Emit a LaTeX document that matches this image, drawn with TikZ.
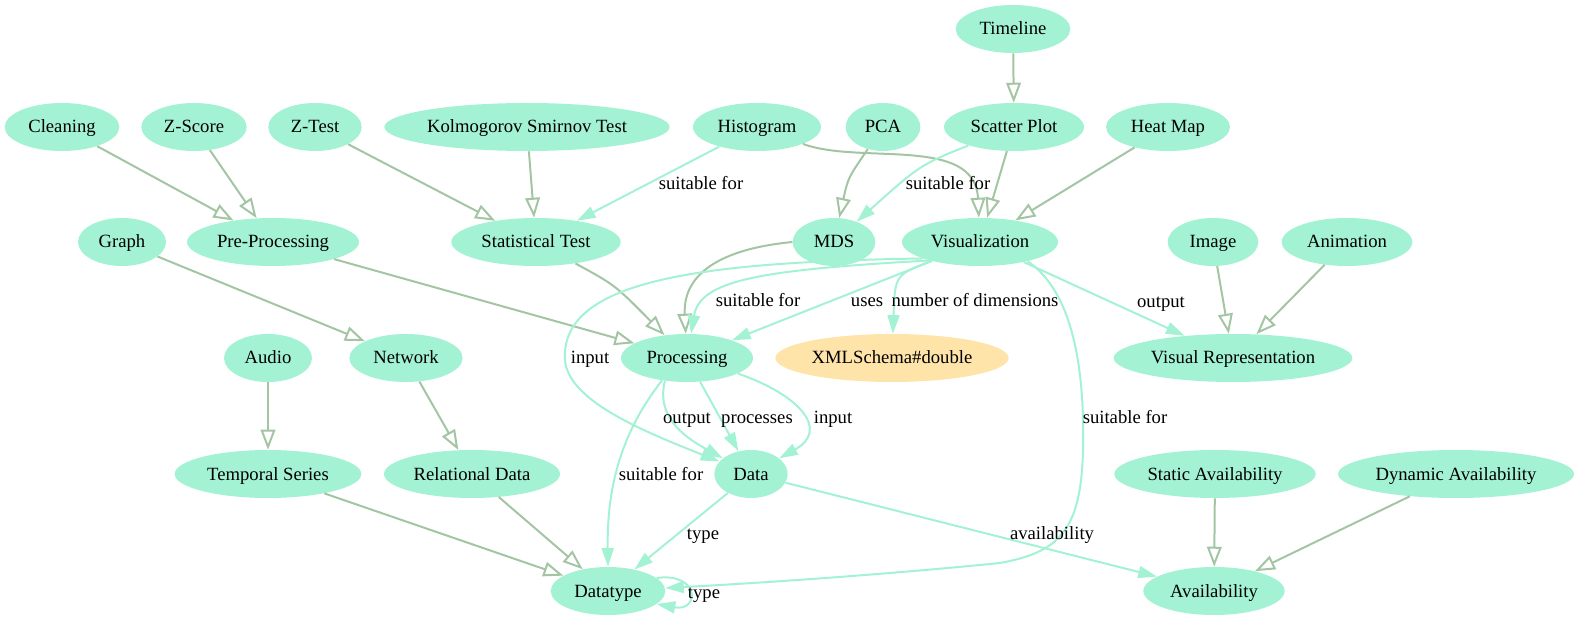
\documentclass[tikz,border=0pt]{standalone}
\usepackage{xcolor}
\usepackage{fontspec}
\setmainfont{Liberation Serif}
\usepackage{tikz}
\usetikzlibrary{shapes.geometric, arrows.meta}
\definecolor{nodeaqua}{HTML}{A3F2D4}
\definecolor{xsdorange}{HTML}{FFE4AA}
\definecolor{subgreen}{HTML}{A3C5A3}

\begin{document}
\begin{tikzpicture}[x=0.75pt, y=-0.75pt,
            classe/.style={ellipse, fill=nodeaqua, minimum height=36pt, inner xsep=0pt, inner ysep=1pt, text height=12pt, text depth=3pt, font=\fontsize{14}{16}\selectfont},
            literal/.style={classe, fill=xsdorange},
            sub/.style={draw=subgreen, line width=1.5pt, -{Triangle[open, length=15pt, width=11pt]}},
            prop/.style={draw=nodeaqua, line width=1.5pt, -{Triangle[length=14pt, width=9pt]}},
            rot/.style={inner sep=0pt, text height=12pt, text depth=3pt, font=\fontsize{14}{16}\selectfont}]
            \useasboundingbox (0,0) rectangle (1579,620);
            \node[classe, minimum width=86pt] (tl) at (1013,29) {Timeline};
            \node[classe, minimum width=86pt] (cl) at (62,127) {Cleaning};
            \node[classe, minimum width=79pt] (zs) at (194,127) {Z-Score};
            \node[classe, minimum width=70pt] (zt) at (315,127) {Z-Test};
            \node[classe, minimum width=214pt] (ks) at (527,127) {Kolmogorov Smirnov Test};
            \node[classe, minimum width=96pt] (hi) at (757,127) {Histogram};
            \node[classe, minimum width=56pt] (pca) at (883,127) {PCA};
            \node[classe, minimum width=105pt] (sc) at (1014,127) {Scatter Plot};
            \node[classe, minimum width=93pt] (hm) at (1168,127) {Heat Map};
            \node[classe, minimum width=66pt] (gr) at (122,242) {Graph};
            \node[classe, minimum width=129pt] (pp) at (273,242) {Pre-Processing};
            \node[classe, minimum width=127pt] (st) at (536,242) {Statistical Test};
            \node[classe, minimum width=62pt] (mds) at (834,242) {MDS};
            \node[classe, minimum width=117pt] (vi) at (980,242) {Visualization};
            \node[classe, minimum width=68pt] (im) at (1213,242) {Image};
            \node[classe, minimum width=98pt] (an) at (1347,242) {Animation};
            \node[classe, minimum width=66pt] (au) at (268,358) {Audio};
            \node[classe, minimum width=85pt] (nw) at (406,358) {Network};
            \node[classe, minimum width=99pt] (pr) at (687,358) {Processing};
            \node[literal, minimum width=175pt] (xsd) at (892,358) {XMLSchema\#double};
            \node[classe, minimum width=179pt] (vr) at (1233,358) {Visual Representation};
            \node[classe, minimum width=140pt] (ts) at (268,474) {Temporal Series};
            \node[classe, minimum width=132pt] (rd) at (472,474) {Relational Data};
            \node[classe, minimum width=55pt] (da) at (751,474) {Data};
            \node[classe, minimum width=151pt] (sa) at (1215,474) {Static Availability};
            \node[classe, minimum width=177pt] (dy) at (1456,474) {Dynamic Availability};
            \node[classe, minimum width=86pt] (dt) at (608,591) {Datatype};
            \node[classe, minimum width=106pt] (av) at (1214,591) {Availability};
            \draw[sub] (tl) -- (sc);
            \draw[sub] (cl) -- (pp);
            \draw[sub] (zs) -- (pp);
            \draw[sub] (zt) -- (st);
            \draw[sub] (ks) -- (st);
            \draw[sub] (hi) .. controls (860,165) and (975,135) .. (vi);
            \draw[sub] (pca) .. controls (848,178) .. (mds);
            \draw[sub] (sc) -- (vi);
            \draw[sub] (hm) -- (vi);
            \draw[sub] (gr) -- (nw);
            \draw[sub] (pp) -- (pr);
            \draw[sub] (st) .. controls (615,285) .. (pr);
            \draw[sub] (mds.west) .. controls (710,250) and (683,280) .. (pr);
            \draw[sub] (im) -- (vr);
            \draw[sub] (an) -- (vr);
            \draw[sub] (au) -- (ts);
            \draw[sub] (nw) -- (rd);
            \draw[sub] (ts) -- (dt);
            \draw[sub] (rd) -- (dt);
            \draw[sub] (sa) -- (av);
            \draw[sub] (dy) -- (av);
            \draw[prop] (hi) -- (st);
            \draw[prop] (sc) .. controls (920,165) .. (mds);
            \draw[prop] (vi.200) .. controls (760,270) and (700,280) .. (pr);
            \draw[prop] (vi) -- (pr);
            \draw[prop] (vi) .. controls (895,275) .. (xsd);
            \draw[prop] (vi) -- (vr);
            \draw[prop] (vi.196) .. controls (700,262) and (560,280) .. (565,360) .. controls (568,400) and (640,430) .. (da);
            \draw[prop] (vi.-22) .. controls (1070,290) and (1085,360) .. (1083,450) .. controls (1081,530) and (1060,552) .. (1000,563) .. controls (880,575) and (760,583) .. (dt);
            \draw[prop] (pr.226) .. controls (655,420) and (690,440) .. (da);
            \draw[prop] (pr) -- (da);
            \draw[prop] (pr.-17) .. controls (800,395) and (830,430) .. (da);
            \draw[prop] (pr.222) .. controls (615,440) and (607,500) .. (dt.north);
            \draw[prop] (da) -- (dt);
            \draw[prop] (da) -- (av);
            \draw[prop] (dt.15) .. controls (700,572) and (700,612) .. (dt.-15);
            \node[rot] (l1) at (701,184) {suitable for};
            \node[rot] (l2) at (948,184) {suitable for};
            \node[rot] (l3) at (590,358) {input};
            \node[rot] (l4) at (758,301) {suitable for};
            \node[rot] (l5) at (867,301) {uses};
            \node[rot] (l6) at (975,301) {number of dimensions};
            \node[rot] (l7) at (1161,302) {output};
            \node[rot] (l8) at (687,417) {output};
            \node[rot] (l9) at (757,417) {processes};
            \node[rot] (l10) at (833,417) {input};
            \node[rot] (l11) at (1125,417) {suitable for};
            \node[rot] (l12) at (661,474) {suitable for};
            \node[rot] (l13) at (703,533) {type};
            \node[rot] (l14) at (1052,533) {availability};
            \node[rot] (l15) at (704,592) {type};
\end{tikzpicture}
\end{document}
